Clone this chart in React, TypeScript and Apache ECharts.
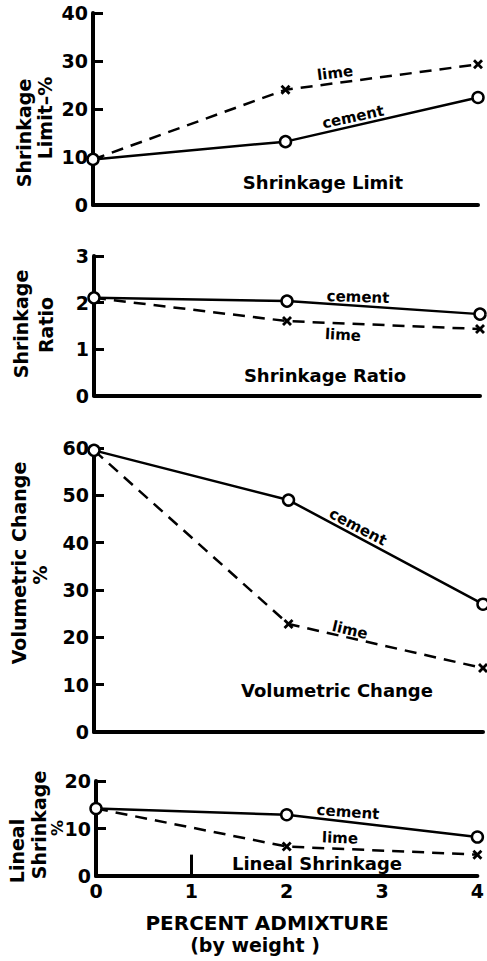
import React, { useEffect, useRef } from "react";
import * as echarts from "echarts";

const xPercent = [0, 2, 4];
const xTickLabels = ["0", "1", "2", "3", "4"];

const limitCement = [9.5, 13.2, 22.4];
const limitLime = [9.5, 24, 29.3];
const ratioCement = [2.1, 2.03, 1.75];
const ratioLime = [2.1, 1.6, 1.43];
const volCement = [59.5, 49, 27];
const volLime = [59.5, 22.8, 13.5];
const linCement = [14.2, 12.9, 8.2];
const linLime = [14.2, 6.2, 4.5];

const yMax = [40, 3, 60, 20];
const yInterval = [10, 1, 10, 10];

const FONT = "DejaVu Sans";
const X_PATH = "path://M0,2 L2,0 L5,3 L8,0 L10,2 L7,5 L10,8 L8,10 L5,7 L2,10 L0,8 L3,5 Z";

const pairs = (ys: number[]) => xPercent.map((x, i) => [x, ys[i]]);

export default function App() {
  const ref = useRef<HTMLDivElement>(null);
  useEffect(() => {
    if (!ref.current) return;
    const chart = echarts.init(ref.current, null, { renderer: "svg" });
    const grids = [
      { left: 93, top: 13, width: 385, height: 192 },
      { left: 94, top: 256, width: 386, height: 139.5 },
      { left: 94, top: 448, width: 389, height: 284 },
      { left: 96, top: 781, width: 386, height: 95 },
    ];
    const axisLine = { show: true, lineStyle: { color: "#000", width: 4 } };
    const xAxes = grids.map((_, i) => ({
      type: "value",
      gridIndex: i,
      min: 0,
      max: 4,
      interval: 1,
      axisLine,
      axisTick: { show: false },
      splitLine: { show: false },
      axisLabel: {
        show: i === 3,
        color: "#000",
        fontFamily: FONT,
        fontWeight: "bold",
        fontSize: 19,
        margin: 5,
        formatter: (v: number) => xTickLabels[v] ?? "",
      },
    }));
    const yAxes = grids.map((_, i) => ({
      type: "value",
      gridIndex: i,
      min: 0,
      max: yMax[i],
      interval: yInterval[i],
      axisLine,
      axisTick: { show: true, inside: true, length: 10, lineStyle: { color: "#000", width: 3 } },
      splitLine: { show: false },
      axisLabel: {
        color: "#000",
        fontFamily: FONT,
        fontWeight: "bold",
        fontSize: 19,
        margin: 5,
      },
    }));
    const cementSeries = (data: number[], i: number) => ({
      type: "line",
      xAxisIndex: i,
      yAxisIndex: i,
      data: pairs(data),
      symbol: "circle",
      symbolSize: 11,
      itemStyle: { color: "#fff", borderColor: "#000", borderWidth: 2.5 },
      lineStyle: { color: "#000", width: 2.5, type: "solid" },
      z: 3,
    });
    const limeSeries = (data: number[], i: number, extra: any = {}) => ({
      type: "line",
      xAxisIndex: i,
      yAxisIndex: i,
      data: pairs(data),
      symbol: X_PATH,
      symbolSize: 10,
      itemStyle: { color: "#000" },
      lineStyle: { color: "#000", width: 2.5, type: [12, 8] },
      z: 2,
      ...extra,
    });
    const deg = (d: number) => (d * Math.PI) / 180;
    const txt = (
      text: string,
      x: number,
      y: number,
      size: number,
      rot = 0
    ) => ({
      type: "text",
      x,
      y,
      rotation: deg(rot),
      style: {
        text,
        fill: "#000",
        font: `bold ${size}px "${FONT}"`,
        textAlign: "center",
        textVerticalAlign: "middle",
      },
      z: 10,
    });
    chart.setOption({
      animation: false,
      backgroundColor: "#fff",
      grid: grids,
      xAxis: xAxes,
      yAxis: yAxes,
      series: [
        limeSeries(limitLime, 0),
        cementSeries(limitCement, 0),
        limeSeries(ratioLime, 1),
        cementSeries(ratioCement, 1),
        limeSeries(volLime, 2),
        cementSeries(volCement, 2),
        limeSeries(linLime, 3, {
          markLine: {
            silent: true,
            symbol: "none",
            label: { show: false },
            lineStyle: { color: "#000", width: 3, type: "solid" },
            data: [[{ coord: [1, 0] }, { coord: [1, 4.5] }]],
          },
        }),
        cementSeries(linCement, 3),
      ],
      graphic: [
        // panel 1
        txt("Shrinkage", 24, 133, 19, 90),
        txt("Limit–%", 45, 118, 19, 90),
        txt("lime", 335, 73, 15, 7),
        txt("cement", 353, 117, 15, 12),
        txt("Shrinkage Limit", 323, 182, 18),
        // panel 2
        txt("Shrinkage", 21, 324, 19, 90),
        txt("Ratio", 46, 325, 19, 90),
        txt("cement", 358, 297, 15, -2),
        txt("lime", 343, 335, 15, -3),
        txt("Shrinkage Ratio", 325, 375, 18),
        // panel 3
        txt("Volumetric Change", 19, 563, 19, 90),
        txt("%", 40, 575, 19, 90),
        txt("cement", 358, 527, 15, -28),
        txt("lime", 350, 630, 15, -13),
        txt("Volumetric Change", 337, 690, 18),
        // panel 4
        txt("Lineal", 17, 851, 19, 90),
        txt("Shrinkage", 39, 825, 19, 90),
        txt("%", 57, 828, 16, 90),
        txt("cement", 348, 812, 15, -4),
        txt("lime", 340, 838, 15, -2),
        txt("Lineal Shrinkage", 317, 863, 18),
        // x axis title
        txt("PERCENT ADMIXTURE", 267, 923, 20),
        txt("(by weight )", 255, 945, 19),
      ],
    });
    return () => chart.dispose();
  }, []);
  return (
    <div
      ref={ref}
      style={{ position: "absolute", left: 0, top: 0, width: 487, height: 961 }}
    />
  );
}
